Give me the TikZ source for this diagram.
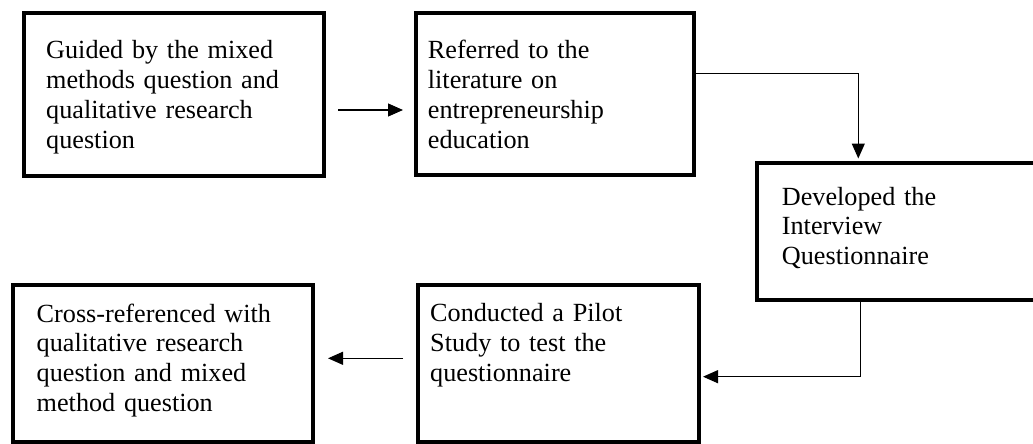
\documentclass[tikz,border=0pt]{standalone}
\usepackage{fontspec}
\setmainfont{Liberation Serif}
\usetikzlibrary{arrows.meta}

\tikzset{
  stepbox/.style={draw=black, line width=4pt, inner sep=0pt, fill=none},
  steptext/.style={anchor=base west, inner sep=0pt, text width=270pt, align=left,
    font=\fontsize{26.2}{29.8}\selectfont},
  flow/.style={draw=black, line width=1.2pt,
    -{Triangle[length=15pt,width=13pt]}},
}

\begin{document}
\begin{tikzpicture}[x=1pt, y=-1pt]
  \useasboundingbox (0,0) rectangle (1033,444);
  \clip (0,0) rectangle (1033,444);

  % process boxes
  \node[stepbox, minimum width=300pt,   minimum height=162.5pt] (b1) at (174,94.25) {};
  \node[stepbox, minimum width=278.5pt, minimum height=162pt]   (b2) at (554.75,94) {};
  \node[stepbox, minimum width=288.5pt, minimum height=137.5pt] (b3) at (900.75,231.25) {};
  \node[stepbox, minimum width=281pt,   minimum height=157pt]   (b4) at (558.5,363.5) {};
  \node[stepbox, minimum width=299.2pt, minimum height=157pt]   (b5) at (162.9,363.5) {};

  % box texts
  \node[steptext] (t1) at (46,59)
    {Guided by the mixed\\methods question and\\qualitative research\\question};
  \node[steptext] (t2) at (427.7,59)
    {Referred to the\\literature on\\entrepreneurship\\education};
  \node[steptext] (t3) at (781.7,205)
    {Developed the\\Interview\\Questionnaire};
  \node[steptext] (t4) at (430,321.7)
    {Conducted a Pilot\\Study to test the\\questionnaire};
  \node[steptext] (t5) at (36.5,322)
    {Cross-referenced with\\qualitative research\\question and mixed\\method question};

  % connector bends
  \coordinate (a1) at (0,110);
  \coordinate (k1) at (858.3,73.3);
  \coordinate (k2) at (860.3,376.7);
  \coordinate (a4) at (0,358.3);

  % connectors
  \draw[flow, shorten <=12pt, shorten >=10.5pt] (b1.east |- a1) -- (b2.west |- a1);
  \draw[flow, shorten >=2pt] (b2.east |- k1) -| (b3.north -| k1);
  \draw[flow, shorten >=2pt] (b3.south -| k2) |- (b4.east |- k2);
  \draw[flow, shorten <=13pt, shorten >=13.5pt] (b4.west |- a4) -- (b5.east |- a4);
\end{tikzpicture}
\end{document}
